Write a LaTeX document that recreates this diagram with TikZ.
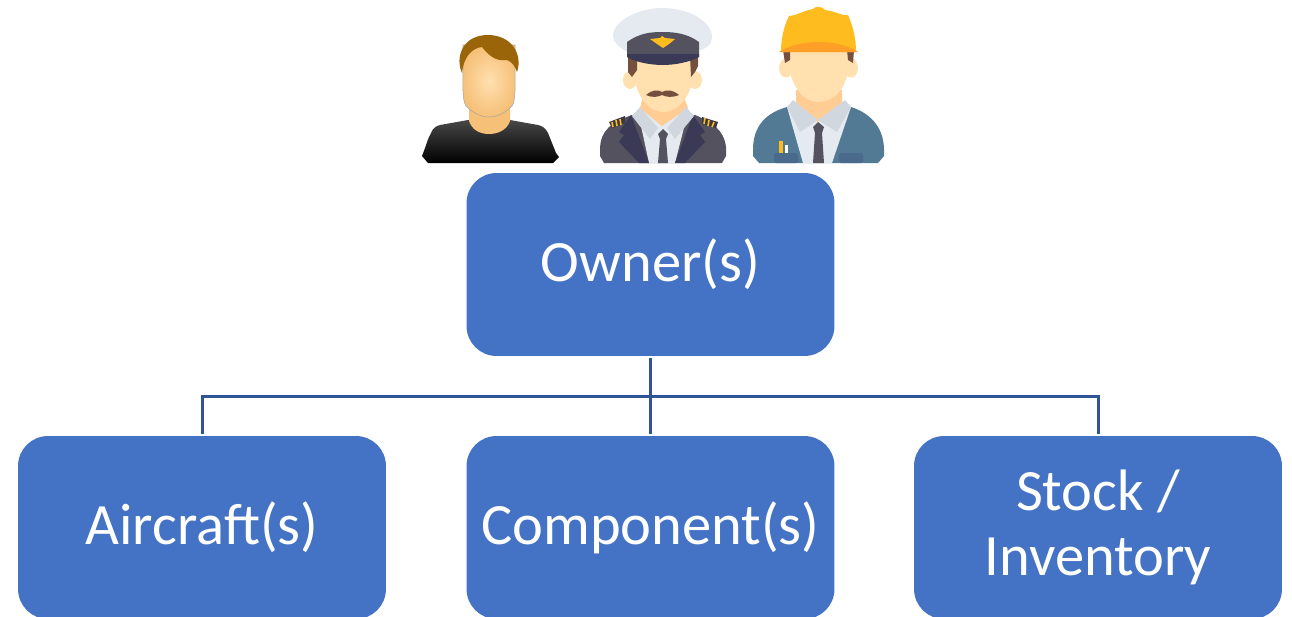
\documentclass[tikz,border=0pt]{standalone}
\usepackage{fontspec}
\setmainfont{Carlito}
\definecolor{boxblue}{HTML}{4472C4}
\definecolor{linkblue}{HTML}{2F5597}
\definecolor{skin}{HTML}{FFE0AE}
\definecolor{skinshade}{HTML}{FFCC94}
\definecolor{hairbrown}{HTML}{75503F}
\definecolor{manhair}{HTML}{9A6408}
\definecolor{manskin}{HTML}{F6C078}
\definecolor{manlight}{HTML}{FFE0B0}
\definecolor{pale}{HTML}{E4EAF0}
\definecolor{collar}{HTML}{D0D7DE}
\definecolor{tie}{HTML}{55525F}
\definecolor{navy}{HTML}{3A3A56}
\definecolor{gold}{HTML}{FFBC1F}
\definecolor{brim}{HTML}{FF9F27}
\definecolor{teal}{HTML}{537A94}
\definecolor{pocket}{HTML}{4A6A8C}
\tikzset{
  box/.style={draw=none,fill=boxblue,rounded corners=0.6cm,minimum width=7.36cm,minimum height=3.66cm,
    inner sep=0pt,outer sep=0.05cm,text=white,align=center,font=\fontsize{33.3}{36.8}\selectfont},
  link/.style={draw=linkblue,line width=0.06cm}
}
\begin{document}
\begin{tikzpicture}[x=0.02cm,y=-0.02cm]
  \useasboundingbox (0,0) rectangle (1292,616);

  \node[box] (owner) at (650.5,264.5) {Owner(s)};
  \node[box] (aircraft) at (202,527.5) {Aircraft(s)};
  \node[box] (component) at (650.5,527.5) {Component(s)};
  \node[box] (stock) at (1098,527.5) {Stock /\\Inventory};
  \coordinate (bus) at (650,396);
  \draw[link] (owner) -- (component);
  \draw[link] (aircraft) |- (bus) -| (stock);

  % man in black
  \shade[top color=black!72,bottom color=black] (422,156) .. controls (426,146) and (428,138) .. (431,133)
    .. controls (433,128) and (436,126) .. (440,125) -- (468,120) -- (510,120) -- (538,125) .. controls (543,126) and (546,129) .. (548,133)
    -- (556,153) -- (559,157) -- (553,163) -- (428,163) -- cycle;
  \fill[manskin] (469,105) -- (469,121) .. controls (472,130) and (480,134) .. (489,134)
    .. controls (498,134) and (507,130) .. (510,121) -- (510,105) -- cycle;
  \shade[inner color=manlight,outer color=manskin,draw=black!35,line width=0.3pt] (463,65) .. controls (463,85) and (462,100) .. (466,106)
    .. controls (474,114) and (482,117) .. (489,117) .. controls (497,117) and (505,113) .. (512,106)
    .. controls (516,100) and (515,85) .. (515,65) -- (515,45) -- (463,45) -- cycle;
  \fill[manhair] (462,73) .. controls (455,58) and (462,35) .. (488,35) .. controls (512,35) and (523,55) .. (517,72)
    .. controls (515,66) and (512,62) .. (507,60) .. controls (500,61) and (492,60) .. (482,47)
    .. controls (473,48) and (464,55) .. (462,73) -- cycle;

  % pilot
  \fill[pale] (613,36) .. controls (613,20) and (640,8) .. (662,8) .. controls (690,8) and (712,22) .. (712,37)
    .. controls (712,44) and (708,48) .. (700,50) -- (627,52) .. controls (618,46) and (613,42) .. (613,36) -- cycle;
  \fill[skin] (630,80) ellipse (7 and 9);
  \fill[skin] (695,80) ellipse (7 and 9);
  \fill[skinshade] (642,95) rectangle (685,115);
  \fill[tie] (600,150) .. controls (600,130) and (612,122) .. (632,115) -- (695,115) .. controls (712,122) and (724,130) .. (726,147)
    -- (726,156) -- (722,163) -- (604,163) -- (600,156) -- cycle;
  \fill[pale] (638,112) -- (688,112) -- (675,163) -- (649,163) -- cycle;
  \fill[skinshade] (642,100) -- (685,100) -- (688,108) -- (662,126) -- (640,108) -- cycle;
  \fill[skin] (633,58) -- (635,82) .. controls (640,102) and (652,112) .. (663,112) .. controls (675,112) and (688,102) .. (692,82)
    -- (693,58) -- cycle;
  \fill[hairbrown] (628,56) -- (637,56) -- (637,70) -- (632,77) -- (628,72) -- cycle;
  \fill[hairbrown] (690,56) -- (698,56) -- (698,66) -- (695,72) -- (691,77) -- cycle;
  \fill[hairbrown] (646,95) .. controls (652,90) and (658,89) .. (662,92) .. controls (667,89) and (673,90) .. (679,95)
    .. controls (672,98) and (666,97) .. (662,95) .. controls (658,97) and (652,98) .. (646,95) -- cycle;
  \fill[tie] (627,42) .. controls (640,33) and (650,32) .. (663,32) .. controls (676,32) and (688,34) .. (699,42) -- (699,57) -- (627,57) -- cycle;
  \fill[navy] (627,54) -- (699,54) -- (699,57) .. controls (690,62) and (675,65) .. (663,65) .. controls (650,65) and (635,62) .. (627,57) -- cycle;
  \fill[gold] (650,39) -- (660,38) -- (662,36) -- (665,38) -- (675,39) -- (669,44) -- (663,48) -- (657,44) -- cycle;
  \fill[navy] (631,115) -- (619,132) -- (624,135) -- (619,142) -- (639,163) -- (649,163) -- cycle;
  \fill[navy] (693,115) -- (705,132) -- (700,135) -- (705,142) -- (685,163) -- (675,163) -- cycle;
  \fill[collar] (640,107) -- (632,116) -- (650,139) -- (658,128) -- cycle;
  \fill[collar] (686,107) -- (694,116) -- (675,139) -- (667,128) -- cycle;
  \fill[tie] (658,134) -- (663,129) -- (668,134) -- (666,139) -- (668,163) -- (658,163) -- (660,139) -- cycle;
  \fill[tie!70!black] (609,122) -- (625,116) -- (625,123) -- (612,128) -- cycle;
  \draw[gold,line width=0.9pt] (612,122) -- (613,127) (616,120) -- (617,126) (620,119) -- (621,125);
  \fill[tie!70!black] (702,117) -- (718,122) -- (716,128) -- (702,124) -- cycle;
  \draw[gold,line width=0.9pt] (705,118) -- (704,124) (709,120) -- (708,126) (714,122) -- (712,127);

  % worker with helmet
  \fill[skin] (786,68) ellipse (7 and 9.5);
  \fill[skin] (851,68) ellipse (7 and 9.5);
  \fill[teal] (753,150) .. controls (753,130) and (762,114) .. (787,107) -- (851,107) .. controls (873,114) and (884,130) .. (884,150)
    -- (884,156) -- (878,163) -- (759,163) -- (753,156) -- cycle;
  \fill[pale] (787,107) -- (851,107) -- (832,163) -- (803,163) -- cycle;
  \fill[skinshade] (796,90) -- (842,90) -- (842,108) -- (818,122) -- (796,108) -- cycle;
  \fill[skin] (787,50) -- (790,72) .. controls (795,92) and (806,102) .. (818,102) .. controls (832,102) and (844,92) .. (848,72) -- (851,50) -- cycle;
  \fill[hairbrown] (783,50) -- (790,50) -- (790,60) -- (785,63) -- cycle;
  \fill[hairbrown] (847,50) -- (854,50) -- (853,63) -- (848,60) -- cycle;
  \fill[collar] (793,100) -- (787,107) -- (800,132) -- (818,120) -- cycle;
  \fill[collar] (845,100) -- (851,107) -- (837,132) -- (818,120) -- cycle;
  \fill[tie] (813,127) -- (818,122) -- (824,127) -- (822,133) -- (824,163) -- (813,163) -- (815,133) -- cycle;
  \fill[pocket,rounded corners=1pt] (774,163) -- (774,153) -- (798,153) -- (798,163) -- cycle;
  \fill[pocket,rounded corners=1pt] (839,163) -- (839,153) -- (863,153) -- (863,163) -- cycle;
  \fill[gold] (779,141) rectangle (783,153);
  \fill[white] (785,145) rectangle (788,153);
  \fill[gold] (781,52) .. controls (781,38) and (784,26) .. (789,16) -- (795,15) .. controls (802,12) and (808,10) .. (813,9)
    .. controls (814,6) and (823,6) .. (825,10) .. controls (832,11) and (838,13) .. (843,15) -- (848,15)
    .. controls (853,26) and (856,38) .. (856,52) -- cycle;
  \fill[brim] (779,52) .. controls (790,45) and (805,42) .. (818,42) .. controls (833,42) and (848,45) .. (858,52) -- cycle;
\end{tikzpicture}
\end{document}
